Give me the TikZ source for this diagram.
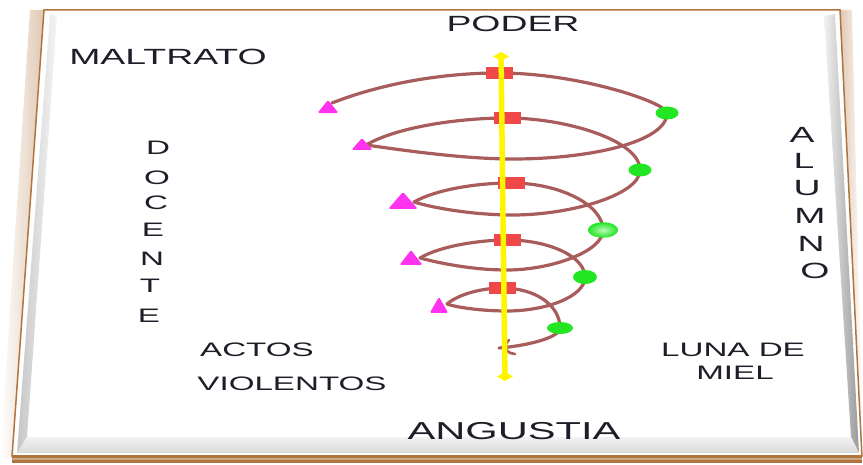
\documentclass[tikz,border=0pt]{standalone}
\usepackage{fontspec}
\setmainfont{Liberation Sans}
\newfontfamily\boardfont[FakeStretch=1.7]{Liberation Sans}
\usetikzlibrary{shapes.geometric, arrows.meta, positioning}

\definecolor{woodbrown}{RGB}{176,116,62}
\definecolor{spiralbrown}{RGB}{168,92,92}
\definecolor{markred}{RGB}{240,72,72}
\definecolor{markpink}{RGB}{255,50,240}
\definecolor{markgreen}{RGB}{34,230,34}
\definecolor{axisyellow}{RGB}{255,245,0}
\definecolor{inkgray}{RGB}{30,30,40}

\tikzstyle{boardtext} = [inner sep=0pt, 
			text=inkgray, 
			font=\boardfont\fontsize{19.5}{23}\selectfont]
\tikzstyle{bigtext} = [boardtext, 
			font=\boardfont\fontsize{22}{26}\selectfont]
\tikzstyle{spiral} = [draw=spiralbrown, 
			line width=3.2pt, 
			line cap=round, 
			line join=round]
\tikzstyle{topmark} = [rectangle, 
			fill=markred, 
			inner sep=0pt, 
			minimum width=27pt, 
			minimum height=12pt]
\tikzstyle{leftmark} = [regular polygon, 
			regular polygon sides=3, 
			fill=markpink, 
			inner sep=0pt, 
			rounded corners=1.5pt]
\tikzstyle{rightmark} = [ellipse, 
			fill=markgreen, 
			inner sep=0pt]
\tikzstyle{axisline} = [draw=axisyellow, 
			line width=5.5pt, 
			{Diamond[length=9pt, width=16pt]}-{Diamond[length=9pt, width=16pt]}]

\begin{document}
\begin{tikzpicture}[x=1pt, y=-1pt]
	\useasboundingbox (0,0) rectangle (863,465);
	% board
	\shade[left color=white, right color=woodbrown!40] (30,10) -- (44,10) -- (12,458) -- (0,458) -- cycle;
	\shade[left color=woodbrown!40, right color=white] (840,10) -- (852,10) -- (863,458) -- (862,458) -- cycle;
	\fill[woodbrown] (12,455) rectangle (862,463);
	\fill[woodbrown!65!white] (12,458) rectangle (862,460);
	\draw[woodbrown, line width=1.5pt] (12,457) -- (44,10) -- (840,10) -- (862,457);
	\shade[left color=gray!45, right color=gray!8] (50,14) -- (57,16) -- (27,437) -- (17,453) -- cycle;
	\shade[left color=gray!10, right color=gray!80] (824,16) -- (835,14) -- (859,453) -- (851,437) -- cycle;
	\shade[top color=gray!10, middle color=gray!65, bottom color=gray!30] (27,437) -- (851,437) -- (859,453) -- (17,453) -- cycle;

	% points of the spiral
	\foreach \i/\x/\y in {1/332/103, 2/366/145, 3/414/202, 4/420/258, 5/447/304}
		\coordinate (l\i) at (\x,\y);
	\foreach \i/\x/\y in {1/499/73, 2/507/118, 3/511/183, 4/507/240, 5/502/288}
		\coordinate (t\i) at (\x,\y);
	\foreach \i/\x/\y in {1/667/113, 2/640/170, 3/603/230, 4/585/277, 5/560/328}
		\coordinate (r\i) at (\x,\y);
	\foreach \i/\x/\y in {1/513/159, 2/513/215, 3/507/270, 4/507/311}
		\coordinate (b\i) at (\x,\y);
	\coordinate (tail) at (499,348);

	% spiral
	\draw[spiral] (l1) .. controls (370,88) and (430,73) .. (t1)
		.. controls (580,73) and (667,103) .. (r1)
		.. controls (667,142) and (590,159) .. (b1)
		.. controls (460,159) and (395,149) .. (l2);
	\draw[spiral] (l2) .. controls (395,128) and (455,118) .. (t2)
		.. controls (565,118) and (640,140) .. (r2)
		.. controls (640,195) and (570,215) .. (b2)
		.. controls (470,215) and (430,207) .. (l3);
	\draw[spiral] (l3) .. controls (435,190) and (475,183) .. (t3)
		.. controls (560,183) and (603,205) .. (r3)
		.. controls (603,252) and (550,270) .. (b3)
		.. controls (470,270) and (435,262) .. (l4);
	\draw[spiral] (l4) .. controls (440,246) and (480,240) .. (t4)
		.. controls (550,240) and (585,257) .. (r4)
		.. controls (585,297) and (545,311) .. (b4)
		.. controls (480,311) and (455,307) .. (l5);
	\draw[spiral] (l5) .. controls (460,293) and (485,288) .. (t5)
		.. controls (535,288) and (560,305) .. (r5)
		.. controls (560,338) and (525,346) .. (tail);
	\draw[spiral, line width=2.6pt] (509,340) .. controls (503,346) and (505,353) .. (515,354);

	% markers
	\foreach \i in {1,...,5}
		\node[topmark] (red\i) at (t\i) {};
	\foreach \i/\x/\y/\s/\xs in {1/328/108.7/17.3/1.4, 2/362/146/16/1.52, 3/403/203.3/22.7/1.5, 4/411/260/20/1.33, 5/439/307.6/21.3/1.0}
		\node[leftmark, minimum size=\s pt, xscale=\xs] (pink\i) at (\x,\y) {};
	\node[rightmark, minimum width=23pt, minimum height=13pt] (green1) at (r1) {};
	\node[rightmark, minimum width=23pt, minimum height=13pt] (green2) at (r2) {};
	\node[rightmark, minimum width=30pt, minimum height=15pt, inner color=white!70!markgreen, outer color=markgreen] (green3) at (r3) {};
	\node[rightmark, minimum width=24pt, minimum height=14pt] (green4) at (r4) {};
	\node[rightmark, minimum width=26pt, minimum height=12pt] (green5) at (r5) {};

	% axis
	\coordinate (axtop) at (501,52);
	\coordinate (axbot) at (505,381);
	\draw[axisline] (axtop) -- (axbot);

	% texts
	\node[bigtext] (poder) at (513,24) {PODER};
	\node[bigtext] (maltrato) at (168,57) {MALTRATO};
	\node[boardtext] (actos) at (257,350) {ACTOS};
	\node[boardtext] (violentos) at (292,384) {VIOLENTOS};
	\node[boardtext] (luna) at (733,350) {LUNA DE};
	\node[boardtext] (miel) at (735,373) {MIEL};
	\node[boardtext, font=\boardfont\fontsize{24.5}{28}\selectfont] (angustia) at (514,431) {ANGUSTIA};
	\foreach \ch/\x/\y [count=\i] in {D/158/148, O/157/178, C/156/203, E/153/230, N/152/259, T/150/286, E/149/316}
		\node[boardtext] (docente\i) at (\x,\y) {\ch};
	\foreach \ch/\x/\y [count=\i] in {A/802/135, L/804/161, U/807/188, M/810/216, N/811/244, O/815/271}
		\node[bigtext] (alumno\i) at (\x,\y) {\ch};
\end{tikzpicture}
\end{document}
